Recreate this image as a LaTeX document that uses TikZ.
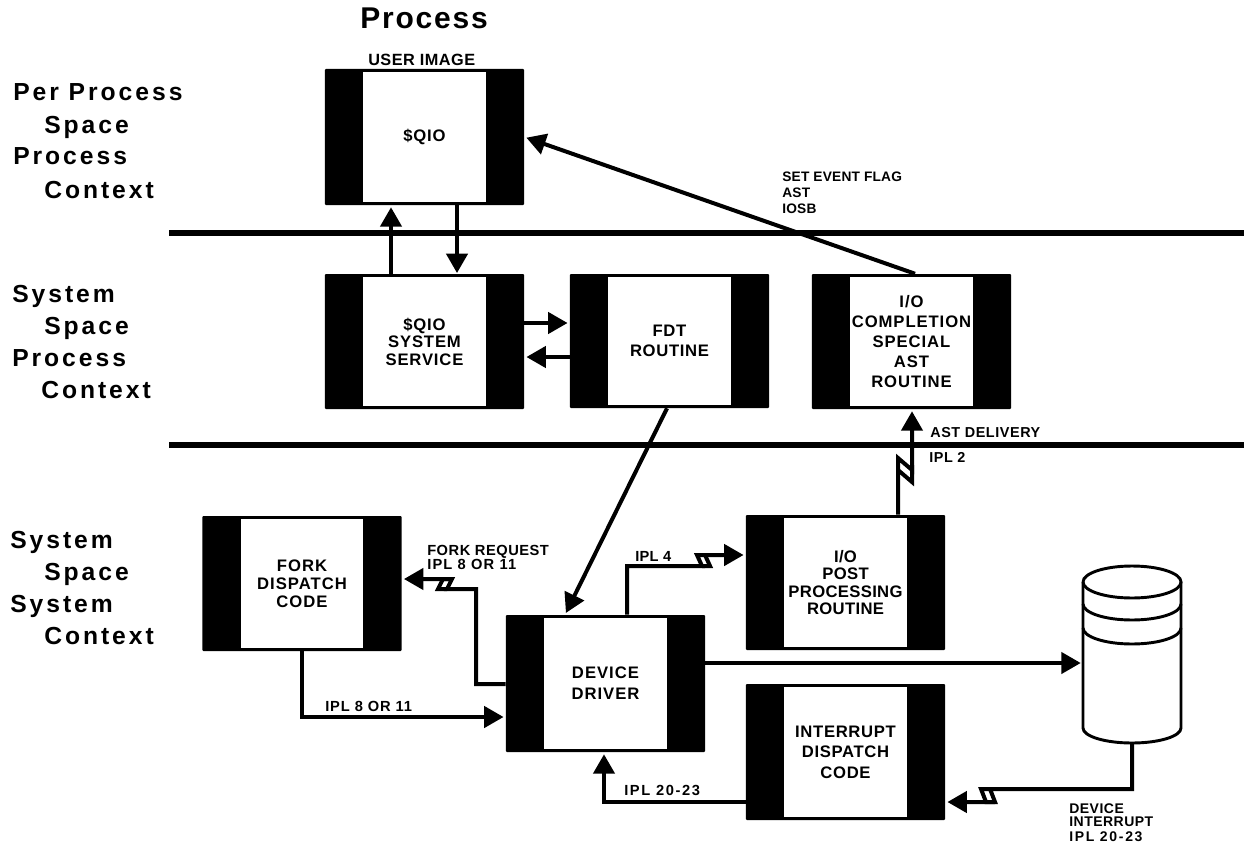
\documentclass[tikz,border=0pt]{standalone}
\usepackage{fontspec}
\setmainfont{Liberation Sans}[BoldFont={Liberation Sans Bold}]
\usetikzlibrary{arrows.meta,calc}
\tikzset{
  x=0.75pt,y=-0.75pt,
  outerbox/.style={fill=black,draw=none,inner sep=0pt,rounded corners=0.8pt,minimum width=149.5pt,minimum height=#1},
  innerbox/.style n args={3}{fill=white,draw=none,inner sep=0pt,align=center,minimum width=92pt,minimum height=#1,
     font=\bfseries\fontsize{12.5}{#2}\selectfont\addfontfeature{LetterSpace=#3}},
  heading/.style={anchor=base west,inner sep=0pt,font=\bfseries\fontsize{18.5}{20}\selectfont\addfontfeature{LetterSpace=12}},
  lbl/.style 2 args={anchor=base west,inner sep=0pt,font=\bfseries\fontsize{#1}{#1}\selectfont\addfontfeature{LetterSpace=#2}},
  conn/.style={line width=3pt,-{Triangle[length=14.5pt,width=15.75pt]},shorten >=1.5pt,line join=miter,line cap=butt},
  plain/.style={line width=3pt,line join=miter},
  sep/.style={line width=4.2pt},
  diskline/.style={line width=2.2pt},
}
\newcommand{\procbox}[7]{% name, cx, cy, outer height px, text, leading, letter space
  \node[outerbox=#4*0.75pt] (#1) at (#2,#3) {};
  \node[innerbox={#4*0.75pt-4.5pt}{#6}{#7}] (#1t) at (#2,#3) {};
  \node[inner sep=0pt,align=center,font=\bfseries\fontsize{12.5}{#6}\selectfont\addfontfeature{LetterSpace=#7}] (#1l) at (#1t) {#5};
}
\begin{document}
\begin{tikzpicture}
\useasboundingbox[fill=white] (0,0) rectangle (1244,845);
% headings
\node[heading,font=\bfseries\fontsize{22.5}{24}\selectfont\addfontfeature{LetterSpace=6}] (h0) at (360,29) {Process};
\node[heading] (a1) at (13,101) {Per Process};
\node[heading] (a2) at (44,134) {Space};
\node[heading] (a3) at (13,165) {Process};
\node[heading] (a4) at (44,198) {Context};
\node[heading] (b1) at (12,302) {System};
\node[heading] (b2) at (44,334) {Space};
\node[heading] (b3) at (12,366) {Process};
\node[heading] (b4) at (41,398) {Context};
\node[heading] (c1) at (10,548) {System};
\node[heading] (c2) at (44,580) {Space};
\node[heading] (c3) at (10,612) {System};
\node[heading] (c4) at (44,644) {Context};
% separators
\coordinate (s1a) at (169,233); \coordinate (s1b) at (1244,233);
\coordinate (s2a) at (169,445); \coordinate (s2b) at (1244,445);
\draw[sep] (s1a) -- (s1b);
\draw[sep] (s2a) -- (s2b);
% boxes
\procbox{qio}{424.5}{137}{136}{\$QIO}{15}{5}
\procbox{sys}{424.5}{341.5}{135}{\$QIO\\SYSTEM\\SERVICE}{13.1}{5}
\procbox{fdt}{669.5}{341}{134}{FDT\\ROUTINE}{15}{4}
\procbox{comp}{911.5}{341.5}{135}{I/O\\COMPLETION\\SPECIAL\\AST\\ROUTINE}{15}{5.5}
\procbox{fork}{302}{583.5}{135}{FORK\\DISPATCH\\CODE}{13.5}{6}
\procbox{drv}{605.5}{683.5}{137}{DEVICE\\DRIVER}{15.75}{6}
\procbox{post}{845.5}{582.5}{135}{I/O\\POST\\PROCESSING\\ROUTINE}{13.1}{2}
\procbox{intr}{845.5}{752}{136}{INTERRUPT\\DISPATCH\\CODE}{15.4}{4}
% disk
\node[minimum width=73.5pt,minimum height=132.75pt,inner sep=0pt] (disk) at (1132,654.5) {};
\draw[diskline] (1083,582) arc[start angle=180,end angle=-180,x radius=49,y radius=16];
\draw[diskline] (1083,582) -- (1083,728) arc[start angle=180,end angle=0,x radius=49,y radius=15] -- (1181,582);
\draw[diskline] (1083,604) arc[start angle=180,end angle=0,x radius=49,y radius=16];
\draw[diskline] (1083,628) arc[start angle=180,end angle=0,x radius=49,y radius=16];
% connectors
\draw[conn] (sys.north -| 391,0) -- (qio.south -| 391,0);
\draw[conn,shorten >=0.5pt] (qio.south -| 457,0) -- (sys.north -| 457,0);
\draw[conn] (sys.east |- 0,323) -- (fdt.west |- 0,323);
\draw[conn] (fdt.west |- 0,357) -- (sys.east |- 0,357);
\draw[conn] (comp.north -| 915,0) -- (qio.east);
\draw[conn] (fdt.south -| 667,0) -- (drv.north -| 565,0);
% bolted connectors
\draw[conn] (post.north -| 898,0) -- (898,458) -- (912,470) -- (comp.south -| 912,0);
\draw[plain] (898,470) -- (912,482) -- (912,465);
\draw[conn] (drv.north -| 627,0) -- (627,566) -- (702,566) -- (697,555) -- (post.west |- 0,555);
\draw[plain] (702,566) -- (710,566) -- (705,555);
\draw[conn] (drv.west |- 0,684) -- (476,684) -- (476,589) -- (447,589) -- (452,579) -- (fork.east |- 0,579);
\draw[plain] (447,589) -- (438,589) -- (443,579) -- (452,579);
\draw[conn] (fork.south -| 302,0) -- (302,717) -- (drv.west |- 0,717);
\draw[conn] (drv.east |- 0,663) -- (disk.west |- 0,663);
\draw[conn] (disk.south) -- (disk.south |- 0,789) -- (990,789) -- (995,802) -- (intr.east |- 0,802);
\draw[plain] (990,789) -- (981,789) -- (986,802) -- (995,802);
\draw[conn] (intr.west |- 0,802) -- (604,802) -- (drv.south -| 604,0);
% labels
\node[lbl={12.2}{3}] (l1) at (368,66) {USER IMAGE};
\node[lbl={10.3}{1.5}] (l2) at (782,181) {SET EVENT FLAG};
\node[lbl={10.3}{1.5}] (l3) at (782,197) {AST};
\node[lbl={10.3}{1.5}] (l4) at (782,213) {IOSB};
\node[lbl={10.8}{4}] (l5) at (930,437) {AST DELIVERY};
\node[lbl={10.8}{4}] (l6) at (929,462) {IPL 2};
\node[lbl={11}{3.5}] (l7) at (427,555) {FORK REQUEST};
\node[lbl={11}{8}] (l8) at (427,569) {IPL 8 OR 11};
\node[lbl={11}{2}] (l9) at (635,561) {IPL 4};
\node[lbl={11}{6}] (l10) at (325,711) {IPL 8 OR 11};
\node[lbl={11}{11}] (l11) at (624,795) {IPL 20-23};
\node[lbl={10.5}{3.5}] (l12) at (1069,813) {DEVICE};
\node[lbl={10.5}{3.5}] (l13) at (1069,826) {INTERRUPT};
\node[lbl={10.5}{12}] (l14) at (1069,841) {IPL 20-23};
\end{tikzpicture}
\end{document}
